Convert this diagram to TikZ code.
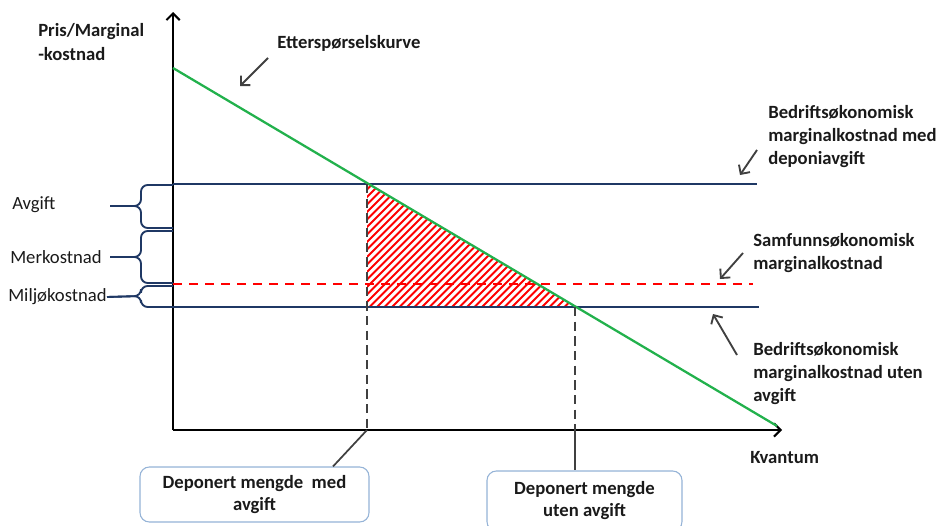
\documentclass[tikz,border=0pt]{standalone}
\usepackage{fontspec}
\setmainfont{Carlito}
\usetikzlibrary{arrows.meta}

\definecolor{navy}{HTML}{1F3864}
\definecolor{kurvegronn}{HTML}{22B14C}
\definecolor{boksblaa}{HTML}{95B3D7}
\definecolor{pilgraa}{HTML}{404040}
\definecolor{tekstfarge}{HTML}{1A1A1A}

\tikzset{
  akse/.style={black, line width=1.5pt, -{Straight Barb[length=5pt,width=10pt]}},
  kostlinje/.style={navy, line width=2pt},
  samfunn/.style={red, line width=1.6pt, dash pattern=on 7pt off 5pt},
  kurve/.style={kurvegronn, line width=1.7pt},
  skravur/.style={red, line width=1.5pt},
  slipp/.style={pilgraa, line width=1.3pt, dash pattern=on 7pt off 4pt},
  tynn/.style={pilgraa, line width=1.3pt},
  pil/.style={pilgraa, line width=1.4pt, -{Straight Barb[length=5pt,width=10pt]}},
  klamme/.style={navy, line width=1.4pt, rounded corners=5pt},
  tekst/.style={text=tekstfarge, font=\fontsize{14}{17.6}\selectfont\bfseries,
    align=left, anchor=west, inner sep=0pt},
  venstre/.style={text=tekstfarge, font=\fontsize{14}{15}\selectfont,
    anchor=west, inner sep=0pt},
  boks/.style={draw=boksblaa, line width=0.8pt, fill=white, rounded corners=7pt,
    text=tekstfarge, font=\fontsize{14}{16.5}\selectfont\bfseries, align=center}
}

\begin{document}
\begin{tikzpicture}[x=0.75pt,y=-0.75pt]
	\useasboundingbox (0,0) rectangle (938,525);
	
	\coordinate (origo) at (173,430);
	\coordinate (mengdeMed) at (367,184);
	\coordinate (mengdeUten) at (575,307);
	
	% skravert areal
	\begin{scope}
		\clip (mengdeMed) -- (367,307) -- (mengdeUten) -- cycle;
		\foreach \x in {222,229.5,...,580}
			\draw[skravur] (\x,312) -- (\x+140,172);
	\end{scope}
	
	% akser
	\draw[akse] (origo) -- (173,12);
	\draw[akse] (origo) -- (782,430);
	
	% kostnadslinjer og kurve
	\draw[kostlinje] (173,184) -- (757,184);
	\draw[samfunn] (173,284) -- (753,284);
	\draw[kostlinje] (173,307) -- (759,307);
	\draw[kurve] (173,68) -- (777,426);
	
	% tekster
	\node[tekst] (prisLbl) at (38,42) {Pris/Marginal\\-kostnad};
	\node[tekst] (etterLbl) at (277,43) {Etterspørselskurve};
	\node[tekst] (medLbl) at (768,136.5) {Bedriftsøkonomisk\\marginalkostnad med\\deponiavgift};
	\node[tekst] (samfLbl) at (753,253) {Samfunnsøkonomisk\\marginalkostnad};
	\node[tekst] (utenLbl) at (753,373.5) {Bedriftsøkonomisk\\marginalkostnad uten\\avgift};
	\node[tekst] (kvantLbl) at (750,458) {Kvantum};
	
	\node[venstre] (avgiftLbl) at (12,205) {Avgift};
	\node[venstre] (merLbl) at (10,257) {Merkostnad};
	\node[venstre] (miljoLbl) at (8,297) {Miljøkostnad};
	
	% piler
	\coordinate (etterHale) at (268,58);
	\coordinate (etterSpiss) at (240,86);
	\draw[pil] (etterHale) -- (etterSpiss);
	\coordinate (medHale) at (757,150);
	\coordinate (medSpiss) at (740,175);
	\draw[pil] (medHale) -- (medSpiss);
	\coordinate (samfHale) at (743,253);
	\coordinate (samfSpiss) at (720,279);
	\draw[pil] (samfHale) -- (samfSpiss);
	\coordinate (utenHale) at (737,355);
	\coordinate (utenSpiss) at (713,314);
	\draw[pil] (utenHale) -- (utenSpiss);
	
	% klammer
	\coordinate (avgiftSpiss) at (110,206);
	\draw[klamme] (173,185) -- (141,185) -- (141,206) -- (avgiftSpiss);
	\draw[klamme] (173,228) -- (141,228) -- (141,206) -- (avgiftSpiss);
	\coordinate (merSpiss) at (110,257);
	\draw[klamme] (173,231) -- (141,231) -- (141,257) -- (merSpiss);
	\draw[klamme] (173,283) -- (141,283) -- (141,257) -- (merSpiss);
	\draw[klamme] (173,286) -- (141,286) -- (141,296) -- (miljoLbl.east);
	\draw[klamme] (173,307) -- (141,307) -- (141,296) -- (miljoLbl.east);
	
	% bokser
	\node[boks, minimum width=171.75pt, minimum height=41.25pt] (medBoks) at (254.5,494.5) {Deponert mengde\ \ med\\avgift};
	\node[boks, minimum width=146.25pt, minimum height=45pt] (utenBoks) at (584.5,501) {Deponert mengde\\uten avgift};
	
	\draw[slipp] (mengdeMed) -- (mengdeMed |- origo);
	\draw[tynn] (mengdeMed |- origo) -- (medBoks.north -| 333,0);
	\draw[slipp] (mengdeUten) -- (mengdeUten |- origo);
	\draw[tynn] (mengdeUten |- origo) -- (utenBoks.north -| mengdeUten);
	
\end{tikzpicture}
\end{document}
